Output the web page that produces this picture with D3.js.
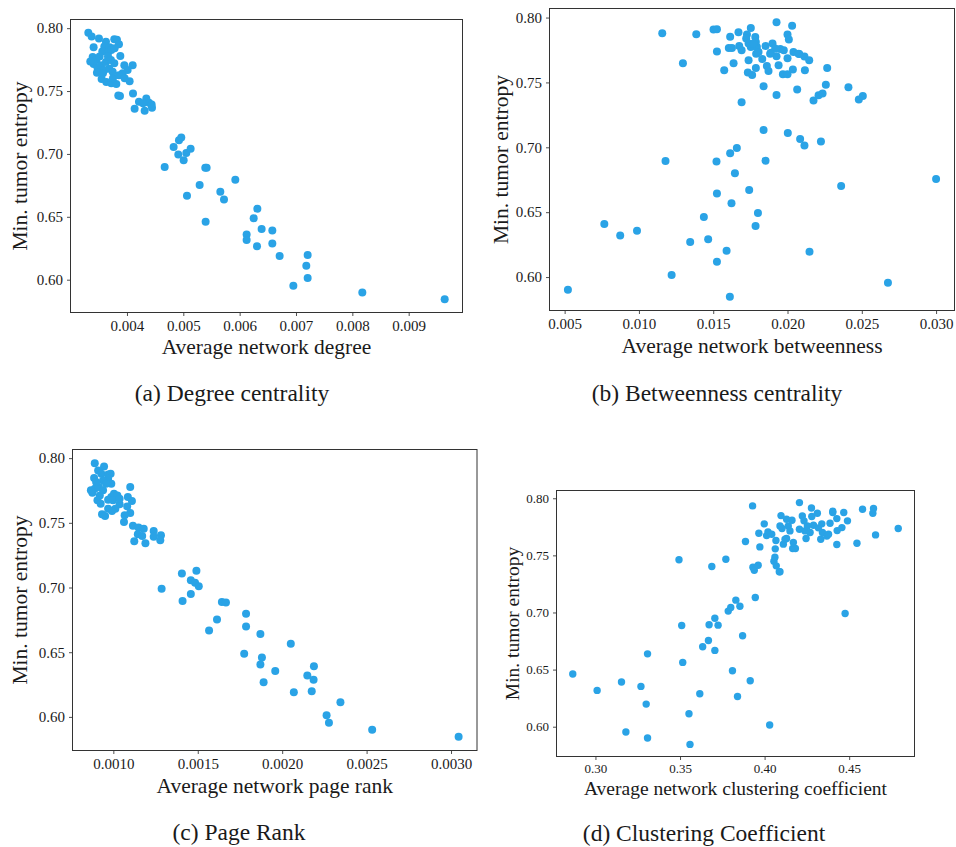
<!DOCTYPE html>
<html>
<head>
<meta charset="utf-8">
<script src="https://cdn.jsdelivr.net/npm/d3@7"></script>
<style>
  body { margin: 0; background: #fff; }
  svg { display: block; }
  text { font-family: "Liberation Serif", "Times New Roman", serif; fill: #1a1a1a; }
</style>
</head>
<body>
<svg id="chart" width="956" height="847"></svg>
<script>
// values (x = network metric, y = min. tumor entropy)
let degreeX = [0.003314,0.003373,0.003503,0.003408,0.003627,0.003775,0.003822,0.003858,0.003598,0.003692,
  0.003562,0.003663,0.003722,0.003781,0.003882,0.003391,0.003456,0.003408,0.003479,0.003538,
  0.003627,0.003716,0.003775,0.003686,0.003598,0.003746,0.003953,0.004101,0.004012,0.003923,
  0.003467,0.00355,0.003633,0.003722,0.003811,0.003751,0.003858,0.003959,0.004047,0.003846,
  0.003876,0.004107,0.004136,0.004213,0.004314,0.004343,0.004391,0.004438,0.004444,0.004284,
  0.003349,0.003515,0.003663,0.003574,0.004669,0.004828,0.004923,0.004964,0.004911,0.005006,
  0.005053,0.00513,0.005065,0.00529,0.00539,0.005414,0.005396,0.005657,0.005722,0.005923,
  0.006124,0.006124,0.006249,0.006314,0.006308,0.00639,0.00658,0.00658,0.00671,0.006953,
  0.007183,0.007207,0.007207,0.008177,0.009639];
let degreeY = [0.7963,0.7934,0.7918,0.7848,0.7891,0.7912,0.7907,0.7872,0.7854,0.7848,
  0.7814,0.7806,0.7827,0.784,0.7779,0.7771,0.7747,0.7715,0.7681,0.7705,
  0.7731,0.7747,0.7721,0.7678,0.7668,0.7654,0.7705,0.7705,0.7668,0.7641,
  0.7646,0.7596,0.7572,0.7561,0.7556,0.7601,0.7625,0.7601,0.7577,0.7465,
  0.746,0.7481,0.7359,0.7415,0.7343,0.7441,0.7407,0.7394,0.7367,0.7402,
  0.7734,0.7774,0.7774,0.7641,0.6896,0.7056,0.7109,0.713,0.6995,0.6949,
  0.7008,0.7042,0.6667,0.6752,0.6891,0.6891,0.646,0.6699,0.6638,0.6795,
  0.6359,0.6316,0.6489,0.6564,0.6266,0.6404,0.6391,0.6287,0.6189,0.5952,
  0.6111,0.6197,0.6013,0.5899,0.5845];

let betweenX = [0.00522,0.00767,0.00874,0.00987,0.01157,0.01179,0.0122,0.01296,0.01345,0.01386,
  0.01437,0.01466,0.01502,0.01525,0.01525,0.01522,0.01525,0.01525,0.01574,0.0159,
  0.01612,0.01614,0.01614,0.01605,0.01626,0.01623,0.01637,0.01646,0.01659,0.0167,
  0.01675,0.01691,0.01691,0.01727,0.01722,0.01738,0.01733,0.01742,0.01753,0.01753,
  0.01762,0.01783,0.01787,0.01787,0.01789,0.01794,0.01785,0.01801,0.0183,0.01839,
  0.01839,0.01852,0.01852,0.01861,0.01872,0.01888,0.01899,0.01926,0.01926,0.01926,
  0.0194,0.01951,0.01969,0.01975,0.02,0.02,0.02009,0.02,0.02002,0.02031,
  0.0204,0.02036,0.02065,0.02079,0.02085,0.02114,0.02114,0.02117,0.02146,0.02148,
  0.02175,0.02209,0.02236,0.02225,0.02258,0.02267,0.02361,0.0241,0.0248,0.02507,
  0.02676,0.03,0.01738,0.01771,0.01805,0.01917,0.02074,0.01883];
let betweenY = [0.5902,0.6409,0.6321,0.6357,0.7879,0.6895,0.6015,0.7648,0.627,0.7871,
  0.6463,0.6291,0.7907,0.791,0.7738,0.689,0.6643,0.6118,0.7594,0.6203,
  0.5848,0.7853,0.6954,0.7766,0.7766,0.6568,0.7648,0.68,0.6995,0.7887,
  0.7781,0.7748,0.7347,0.7869,0.7838,0.7671,0.7576,0.6671,0.792,0.7774,
  0.7558,0.7851,0.7612,0.7812,0.7722,0.7774,0.6393,0.6494,0.7681,0.747,
  0.7134,0.7781,0.6897,0.7627,0.7589,0.7728,0.78,0.7964,0.7702,0.7404,
  0.7632,0.7758,0.7563,0.7748,0.7563,0.7869,0.783,0.7686,0.7111,0.7936,
  0.7735,0.7599,0.7445,0.772,0.7064,0.7699,0.7013,0.7594,0.7671,0.6195,
  0.736,0.7401,0.7414,0.7044,0.7483,0.7612,0.6702,0.7463,0.7368,0.7396,
  0.5956,0.6756,0.78,0.78,0.7735,0.7761,0.7722,0.7722];

let pagerankX = [0.00089,0.000945,0.00091,0.000886,0.000929,0.000969,0.000984,0.000969,0.000988,0.000939,
  0.000876,0.00089,0.000914,0.000939,0.00092,0.000906,0.000925,0.000969,0.000988,0.001004,
  0.001024,0.000998,0.0011,0.001086,0.00111,0.001082,0.0011,0.001067,0.001037,0.001012,
  0.000969,0.000992,0.000933,0.000951,0.001116,0.001149,0.00118,0.001145,0.001171,0.001124,
  0.00119,0.001239,0.001239,0.001282,0.001278,0.001286,0.001406,0.00141,0.001459,0.001459,
  0.001492,0.001484,0.001506,0.001567,0.001614,0.001643,0.001667,0.001786,0.001786,0.001775,
  0.001871,0.001871,0.00188,0.00189,0.001959,0.002051,0.002069,0.002149,0.002175,0.002186,
  0.002188,0.002263,0.002277,0.002345,0.002533,0.003045,0.000957,0.000898,0.000867,0.001037,
  0.001063];
let pagerankY = [0.7961,0.7936,0.7905,0.7846,0.7879,0.7874,0.7879,0.7841,0.7802,0.7828,
  0.7733,0.7764,0.7776,0.7751,0.7712,0.7674,0.7648,0.7679,0.7699,0.7725,
  0.7712,0.7674,0.7776,0.7699,0.7668,0.7627,0.7576,0.7558,0.7643,0.7609,
  0.7609,0.7591,0.7566,0.7553,0.7478,0.7463,0.7455,0.7411,0.7398,0.7357,
  0.7342,0.7437,0.7393,0.7404,0.7365,0.699,0.7108,0.6895,0.7057,0.6949,
  0.7129,0.7036,0.701,0.6668,0.6753,0.6889,0.6884,0.6797,0.6699,0.6488,
  0.664,0.6404,0.646,0.6267,0.6355,0.6566,0.619,0.6319,0.6198,0.6288,
  0.6391,0.6013,0.5954,0.6113,0.59,0.5846,0.7802,0.7815,0.7751,0.7686,
  0.7506];

let clusterX = [0.2866,0.301,0.3154,0.318,0.3269,0.33,0.3308,0.3308,0.3494,0.351,
  0.3516,0.3553,0.3559,0.3617,0.3634,0.3668,0.3672,0.3688,0.3706,0.3706,
  0.3725,0.3771,0.3785,0.38,0.381,0.383,0.384,0.3854,0.387,0.3887,
  0.3915,0.3929,0.3931,0.3939,0.3945,0.3962,0.3966,0.3972,0.3998,0.4012,
  0.402,0.403,0.4042,0.4055,0.4061,0.4063,0.4067,0.4069,0.4087,0.4091,
  0.4097,0.4103,0.4111,0.4121,0.413,0.414,0.415,0.4162,0.4166,0.4182,
  0.4206,0.4206,0.4223,0.4233,0.4239,0.4245,0.4253,0.4269,0.4277,0.4279,
  0.4289,0.4312,0.4332,0.4338,0.4342,0.4368,0.4378,0.4387,0.4403,0.4403,
  0.4427,0.4427,0.4429,0.4457,0.4468,0.4476,0.449,0.4546,0.4579,0.464,
  0.4644,0.4656,0.479,0.4091,0.417,0.413,0.4318];
let clusterY = [0.6461,0.6318,0.6391,0.5953,0.6353,0.6198,0.6638,0.5901,0.7461,0.6886,
  0.6563,0.6114,0.5845,0.6289,0.67,0.6755,0.6892,0.7402,0.695,0.6668,
  0.6889,0.7466,0.7012,0.7044,0.649,0.7108,0.6265,0.7055,0.6796,0.7621,
  0.6402,0.7933,0.7397,0.737,0.7131,0.7414,0.7694,0.7574,0.7776,0.7673,
  0.7706,0.6015,0.7685,0.7449,0.7484,0.7557,0.763,0.7408,0.7356,0.7356,
  0.7848,0.7735,0.7598,0.7641,0.7647,0.7758,0.7714,0.7808,0.756,0.756,
  0.7962,0.7729,0.7845,0.7802,0.7714,0.7647,0.7758,0.77,0.7915,0.784,
  0.7764,0.7869,0.7641,0.7776,0.77,0.767,0.7685,0.7781,0.7875,0.7886,
  0.7822,0.7595,0.7717,0.7743,0.7875,0.6991,0.7802,0.7606,0.7904,0.7869,
  0.791,0.7679,0.7735,0.7758,0.7612,0.7816,0.7741];

let yTicks = [0.60, 0.65, 0.70, 0.75, 0.80];
let degreeTicks = [0.004, 0.005, 0.006, 0.007, 0.008, 0.009];
let betweenTicks = [0.005, 0.010, 0.015, 0.020, 0.025, 0.030];
let pagerankTicks = [0.0010, 0.0015, 0.0020, 0.0025, 0.0030];
let clusterTicks = [0.30, 0.35, 0.40, 0.45];

let xLabels = ["Average network degree", "Average network betweenness",
  "Average network page rank", "Average network clustering coefficient"];
let captions = ["(a) Degree centrality", "(b) Betweenness centrality",
  "(c) Page Rank", "(d) Clustering Coefficient"];
let yLabel = "Min. tumor entropy";

let dotColor = "#2aa3e6";
let svg = d3.select("#chart");

// layout of the four sub figures
let panels = [
  {xs: degreeX, ys: degreeY, ticks: degreeTicks, fmt: ".3f",
   left: 70.5, top: 19.5, w: 392, h: 293, yLabX: 20, xLabY: 347, capX: 232, capY: 393, tickFs: 15, labFs: 21.5},
  {xs: betweenX, ys: betweenY, ticks: betweenTicks, fmt: ".3f",
   left: 549.5, top: 8.5, w: 405, h: 302, yLabX: 501, xLabY: 346, capX: 717, capY: 393, tickFs: 15, labFs: 21.5},
  {xs: pagerankX, ys: pagerankY, ticks: pagerankTicks, fmt: ".4f",
   left: 72.5, top: 449.5, w: 404.5, h: 301, yLabX: 20, xLabY: 786, capX: 239, capY: 832, tickFs: 15, labFs: 21.5},
  {xs: clusterX, ys: clusterY, ticks: clusterTicks, fmt: ".2f",
   left: 556.5, top: 490.5, w: 358, h: 266, yLabX: 512, xLabY: 788, capX: 704, capY: 833, tickFs: 13, labFs: 19.5}
];

// matplotlib style 5% margin around the data
function padded(vals) {
  let ext = d3.extent(vals);
  let m = (ext[1] - ext[0]) * 0.05;
  return [ext[0] - m, ext[1] + m];
}

panels.forEach((p, i) => {
  let g = svg.append("g").attr("transform", "translate(" + p.left + "," + p.top + ")");
  let x = d3.scaleLinear().domain(padded(p.xs)).range([0, p.w]);
  let y = d3.scaleLinear().domain(padded(p.ys)).range([p.h, 0]);
  let pts = p.xs.map((v, k) => ({x: v, y: p.ys[k]}));

  g.append("g").selectAll("circle").data(pts).enter().append("circle")
    .attr("cx", d => x(d.x)).attr("cy", d => y(d.y))
    .attr("r", p.tickFs === 13 ? 3.7 : 4).attr("fill", dotColor);

  let xAxis = g.append("g").attr("transform", "translate(0," + p.h + ")")
    .call(d3.axisBottom(x).tickValues(p.ticks).tickFormat(d3.format(p.fmt))
      .tickSize(3.5).tickPadding(4).tickSizeOuter(0));
  let yAxis = g.append("g")
    .call(d3.axisLeft(y).tickValues(yTicks).tickFormat(d3.format(".2f"))
      .tickSize(3.5).tickPadding(4).tickSizeOuter(0));
  [xAxis, yAxis].forEach(ax => {
    ax.select(".domain").remove();
    ax.selectAll("line").attr("stroke", "#222").attr("stroke-width", 0.8);
    ax.selectAll("text").style("font-size", p.tickFs + "px")
      .style("font-family", "'Liberation Serif', serif").attr("fill", "#1a1a1a");
  });

  g.append("rect").attr("width", p.w).attr("height", p.h)
    .attr("fill", "none").attr("stroke", "#333").attr("stroke-width", 1);

  // axis titles
  svg.append("text").attr("x", p.left + p.w / 2).attr("y", p.xLabY)
    .attr("text-anchor", "middle").attr("dominant-baseline", "central")
    .style("font-size", p.labFs + "px").text(xLabels[i]);
  svg.append("text")
    .attr("transform", "translate(" + p.yLabX + "," + (p.top + p.h / 2) + ") rotate(-90)")
    .attr("text-anchor", "middle").attr("dominant-baseline", "central")
    .style("font-size", p.labFs + "px").text(yLabel);

  // sub figure caption
  svg.append("text").attr("x", p.capX).attr("y", p.capY)
    .attr("text-anchor", "middle").attr("dominant-baseline", "central")
    .style("font-size", "23.5px").text(captions[i]);
});
</script>
</body>
</html>
